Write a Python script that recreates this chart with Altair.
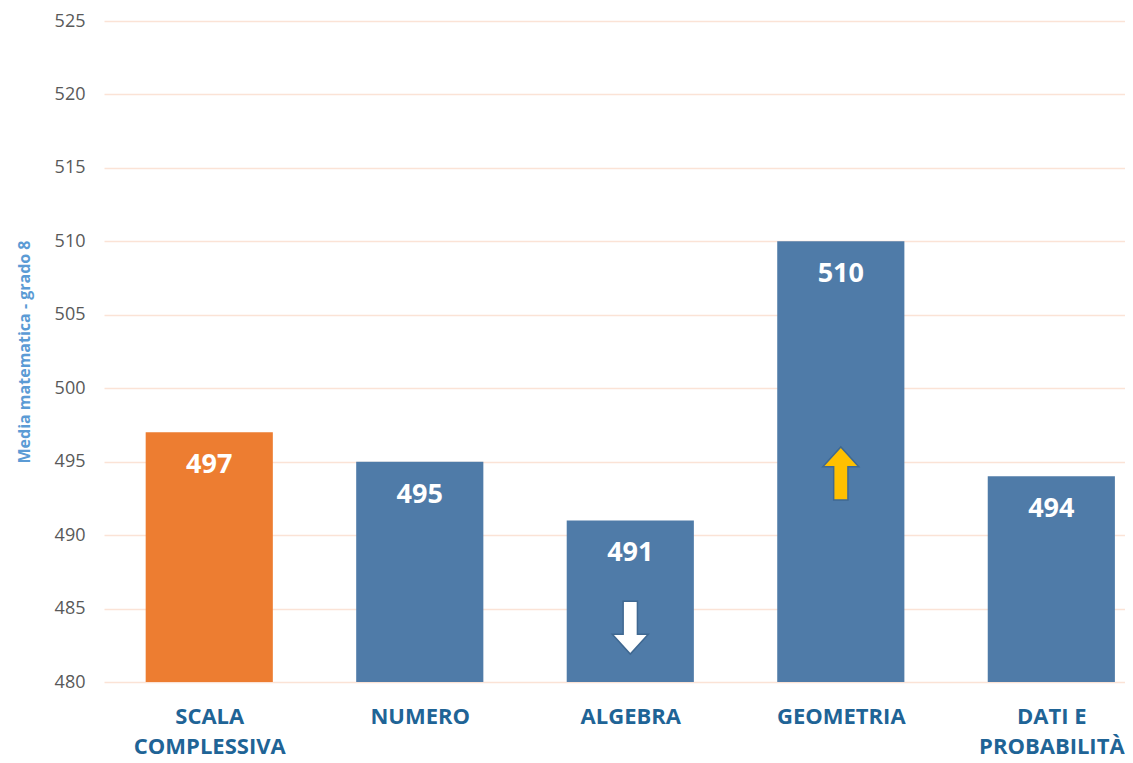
import json
import altair as alt
import pandas as pd

# ---- data ----
categories = ["SCALA COMPLESSIVA", "NUMERO", "ALGEBRA", "GEOMETRIA", "DATI E PROBABILITÀ"]
label_lines = [["SCALA", "COMPLESSIVA"], ["NUMERO"], ["ALGEBRA"], ["GEOMETRIA"], ["DATI E", "PROBABILITÀ"]]
values = [497, 495, 491, 510, 494]
bar_colors = ["#ED7D31", "#4F7BA8", "#4F7BA8", "#4F7BA8", "#4F7BA8"]
y_ticks = [480, 485, 490, 495, 500, 505, 510, 515, 520, 525]

arrow_categories = ["ALGEBRA", "GEOMETRIA"]
arrow_values = [483.7, 494.2]
arrow_dirs = ["down", "up"]
arrow_colors = ["#FFFFFF", "#FFC000"]

df = pd.DataFrame({
    "cat": categories,
    "idx": list(range(len(categories))),
    "value": values,
    "color": bar_colors,
})
arrows = pd.DataFrame({
    "cat": arrow_categories,
    "idx": [categories.index(c) for c in arrow_categories],
    "value": arrow_values,
    "dir": arrow_dirs,
    "color": arrow_colors,
})

HALF = 0.302
xscale = alt.Scale(domain=[-0.5, 4.35], nice=False, zero=False)
yscale = alt.Scale(domain=[480, 525], nice=False, zero=False)

label_expr = json.dumps(label_lines, ensure_ascii=False) + "[datum.value]"

xaxis = alt.Axis(
    values=list(range(len(categories))),
    labelExpr=label_expr,
    title=None,
    grid=False,
    domain=False,
    ticks=False,
    labelFont="Open Sans",
    labelFontWeight="bold",
    labelFontSize=22,
    labelColor="#1F6496",
    labelPadding=24,
    labelLineHeight=30,
    labelFlush=False,
    labelOverlap=False,
)
yaxis = alt.Axis(
    values=y_ticks,
    title="Media matematica - grado 8",
    titleFont="Open Sans",
    titleFontSize=16,
    titleFontWeight="bold",
    titleColor="#5B9BD5",
    titlePadding=22,
    labelFont="Open Sans",
    labelFontSize=18,
    labelColor="#595959",
    labelPadding=19,
    domain=False,
    ticks=False,
    grid=True,
    gridColor="#FBE3D6",
    gridWidth=1.5,
)

base = alt.Chart(df).transform_calculate(
    x1=f"datum.idx - {HALF}", x2=f"datum.idx + {HALF}"
)

bars = base.mark_bar().encode(
    x=alt.X("x1:Q", scale=xscale, axis=xaxis),
    x2="x2:Q",
    y=alt.Y("value:Q", scale=yscale, axis=yaxis),
    y2=alt.datum(480),
    color=alt.Color("color:N", scale=None, legend=None),
)

texts = base.mark_text(
    font="Open Sans", fontWeight="bold", fontSize=27, color="white",
    baseline="middle", dy=33,
).encode(
    x=alt.X("idx:Q", scale=xscale),
    y=alt.Y("value:Q", scale=yscale),
    text=alt.Text("value:Q"),
)

down_path = "M -0.27 -1 L 0.27 -1 L 0.27 0.25 L 0.68 0.25 L 0 1 L -0.68 0.25 L -0.27 0.25 Z"
up_path = "M -0.27 1 L 0.27 1 L 0.27 -0.25 L 0.68 -0.25 L 0 -1 L -0.68 -0.25 L -0.27 -0.25 Z"

arrow_layers = []
for d, path in [("down", down_path), ("up", up_path)]:
    arrow_layers.append(
        alt.Chart(arrows).transform_filter(alt.datum.dir == d).mark_point(
            shape=path, size=2800, filled=True, opacity=1,
            stroke="#3F6891", strokeWidth=1.5,
        ).encode(
            x=alt.X("idx:Q", scale=xscale),
            y=alt.Y("value:Q", scale=yscale),
            fill=alt.Color("color:N", scale=None, legend=None),
        )
    )

chart = alt.layer(bars, texts, *arrow_layers).properties(
    width=1021,
    height=661,
    autosize=alt.AutoSizeParams(type="none"),
    padding={"left": 96, "top": 13, "right": 0, "bottom": 80},
    background="white",
).configure_view(stroke=None)

chart.save("out.html", embed_options={"renderer": "svg", "actions": False})
